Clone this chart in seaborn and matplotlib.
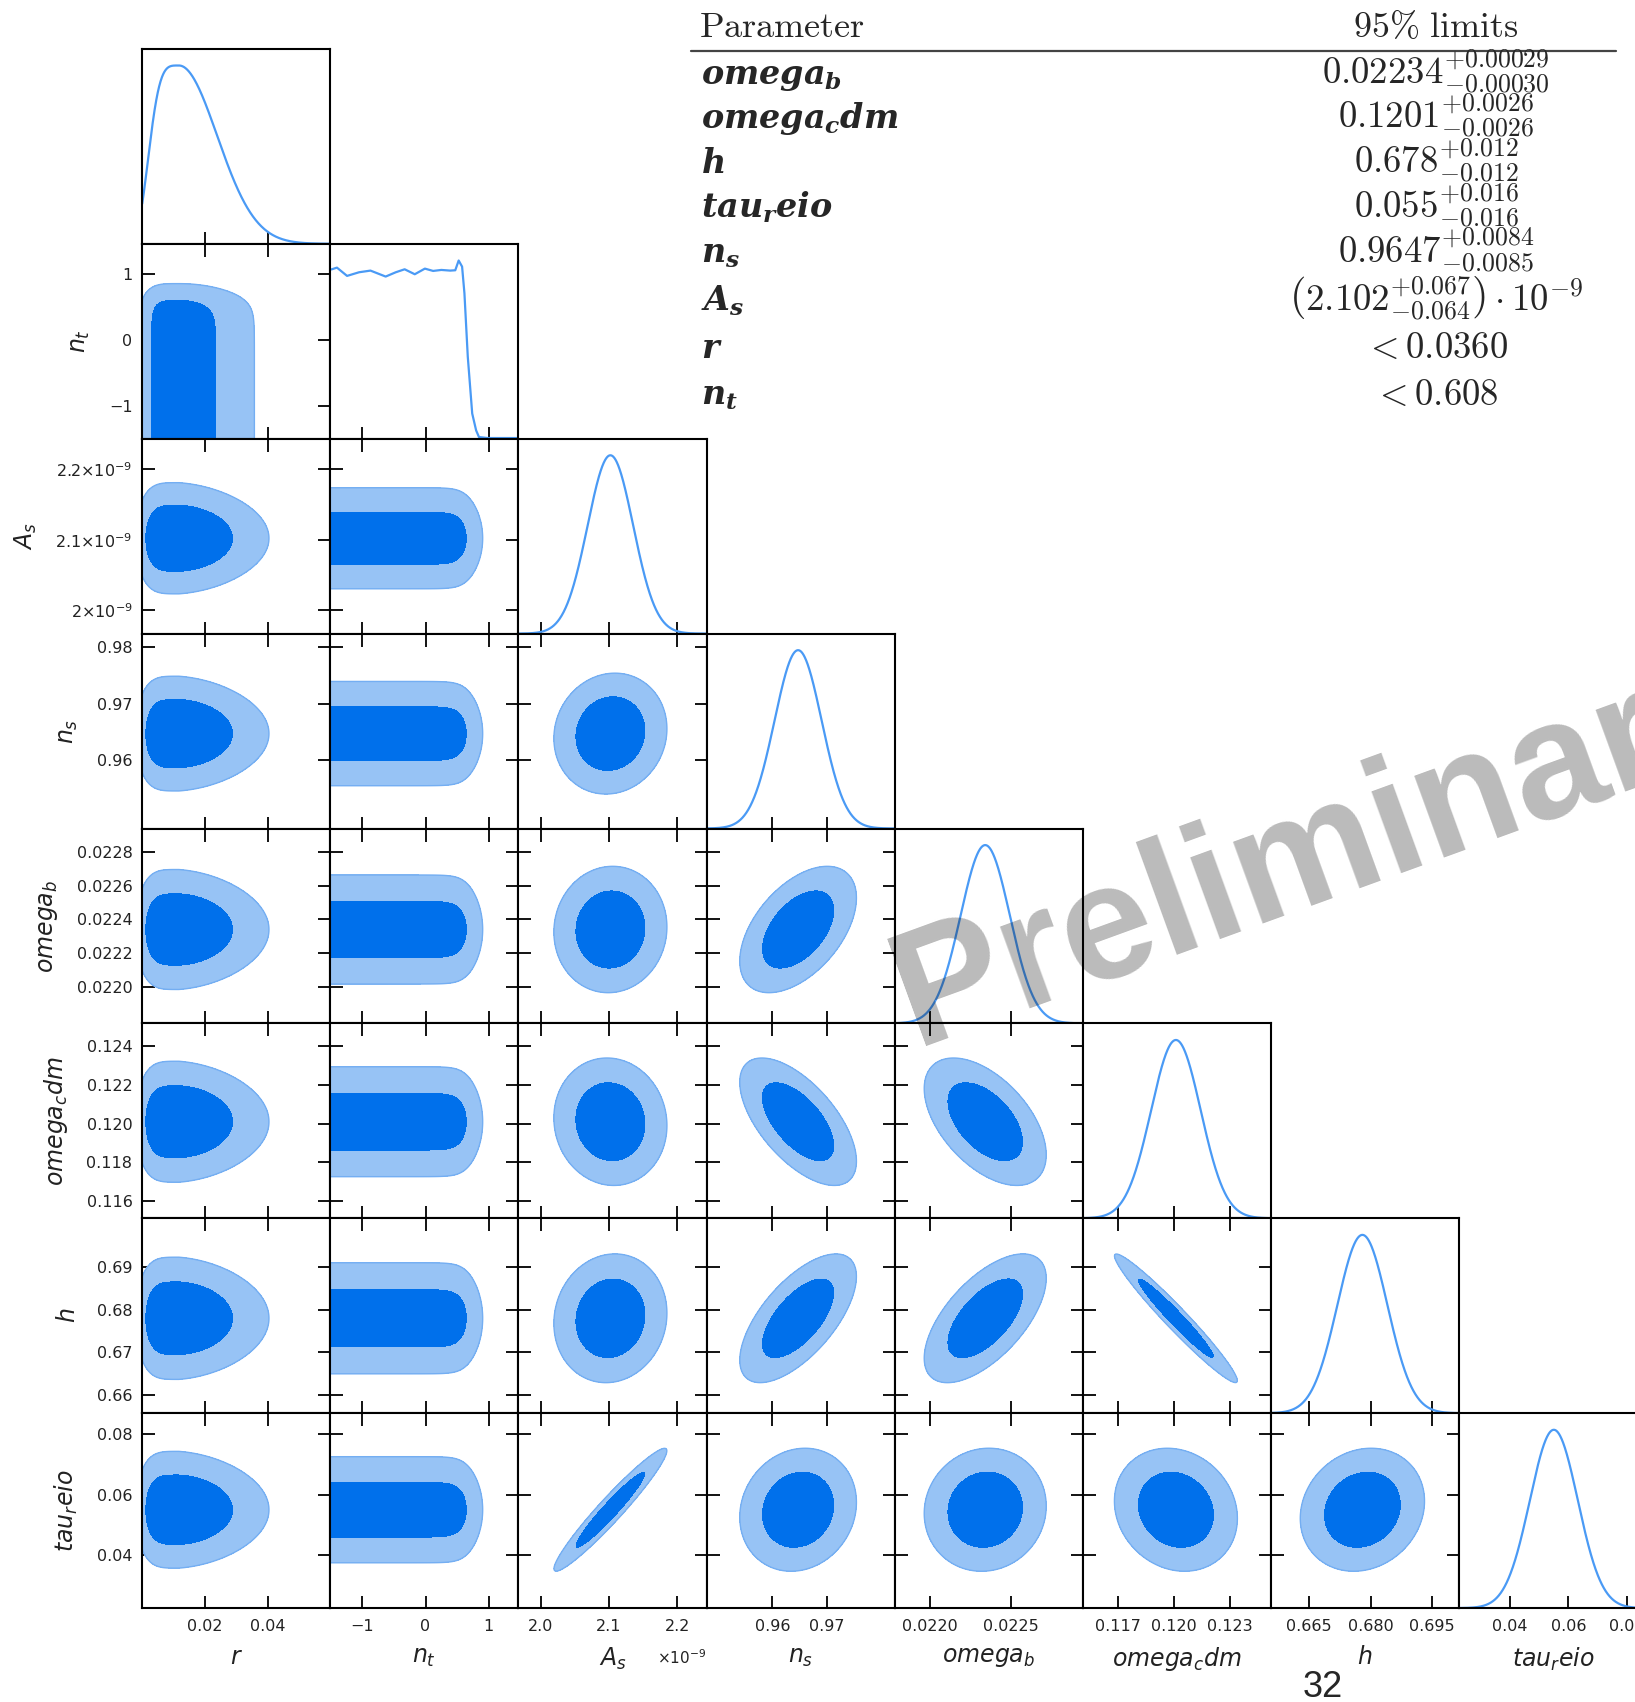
import numpy as np
import matplotlib
matplotlib.use("Agg")
import matplotlib.pyplot as plt
import seaborn as sns
from matplotlib.ticker import FixedLocator, FixedFormatter

# ---------------------------------------------------------------------------
# Parameters of the chain, in plotting order
# ---------------------------------------------------------------------------
param_names = ["r", "n_t", "A_s", "n_s", "omega_b", "omega_cdm", "h", "tau_reio"]
axis_labels = [r"$r$", r"$n_t$", r"$A_s$", r"$n_s$", r"$omega_b$",
               r"$omega_cdm$", r"$h$", r"$tau_reio$"]

# 95% limits as reported in the summary table
table_params = ["omega_b", "omega_cdm", "h", "tau_reio", "n_s", "A_s", "r", "n_t"]
table_names = [r"$omega_b$", r"$omega_cdm$", r"$h$", r"$tau_reio$",
               r"$n_s$", r"$A_s$", r"$r$", r"$n_t$"]
best_fit = ["0.02234", "0.1201", "0.678", "0.055", "0.9647", "2.102"]
limit_plus = ["0.00029", "0.0026", "0.012", "0.016", "0.0084", "0.067"]
limit_minus = ["0.00030", "0.0026", "0.012", "0.016", "0.0085", "0.064"]
upper_limits = ["0.0360", "0.608"]          # r, n_t (one-sided)
As_unit = 1e-9                              # A_s values are quoted in units of 1e-9

# Gaussian-like parameters: mean and sigma derived from the table
gauss_params = table_params[:6]
gauss_mean = {p: float(b) * (As_unit if p == "A_s" else 1.0)
              for p, b in zip(gauss_params, best_fit)}
gauss_sigma = {p: 0.5 * (float(a) + float(b)) / 1.96 * (As_unit if p == "A_s" else 1.0)
               for p, a, b in zip(gauss_params, limit_plus, limit_minus)}

# correlation coefficients between the Gaussian-like parameters
corr_first = ["A_s", "A_s", "A_s", "A_s", "A_s", "n_s", "n_s", "n_s", "n_s",
              "omega_b", "omega_b", "omega_b", "omega_cdm", "omega_cdm", "h"]
corr_second = ["tau_reio", "n_s", "omega_b", "omega_cdm", "h", "omega_b", "omega_cdm", "h",
               "tau_reio", "omega_cdm", "h", "tau_reio", "h", "tau_reio", "tau_reio"]
corr_value = [0.96, 0.08, 0.04, -0.06, 0.08, 0.50, -0.62, 0.65,
              0.12, -0.52, 0.62, 0.06, -0.97, -0.14, 0.14]

# tensor-to-scalar ratio: asymmetric marginal bounded at r = 0
r_peak = 0.0117
r_width_low, r_power_low = 0.0089, 4.0
r_width_high, r_power_high = 0.0122, 2.0
r_taper = 0.05      # narrowing of the partner parameter towards large r

# tensor tilt: flat posterior with a soft upper edge
nt_edge, nt_soft, nt_prior_min = 0.663, 0.11, -3.0
nt_curve_x = [-1.55, -1.48, -1.40, -1.24, -1.05, -0.87, -0.63, -0.47, -0.33, -0.17,
              -0.01, 0.12, 0.25, 0.39, 0.47, 0.524, 0.578, 0.615, 0.668, 0.738,
              0.80, 0.845, 0.98, 1.50]
nt_curve_y = [1.02, 1.024, 1.034, 0.984, 1.006, 1.016, 0.98, 1.006, 1.024, 0.994,
              1.028, 1.014, 1.02, 1.016, 1.018, 1.077, 1.04, 0.879, 0.495, 0.152,
              0.05, 0.01, 0.004, 0.004]

# plotting ranges
axis_lo = [0.0, -1.505, 1.967e-9, 0.9479, 0.021785, 0.11511, 0.6556, 0.0226]
axis_hi = [0.060, 1.468, 2.243e-9, 0.9824, 0.022937, 0.12518, 0.7016, 0.0868]

# ticks and tick labels
x_ticks = [[0.02, 0.04], [-1, 0, 1], [2.0e-9, 2.1e-9, 2.2e-9], [0.96, 0.97],
           [0.0220, 0.0225], [0.117, 0.120, 0.123], [0.665, 0.680, 0.695],
           [0.04, 0.06, 0.08]]
x_tick_labels = [["0.02", "0.04"], ["\u22121", "0", "1"], ["2.0", "2.1", "2.2"],
                 ["0.96", "0.97"], ["0.0220", "0.0225"], ["0.117", "0.120", "0.123"],
                 ["0.665", "0.680", "0.695"], ["0.04", "0.06", "0.08"]]
y_ticks = [[], [-1, 0, 1], [2.0e-9, 2.1e-9, 2.2e-9], [0.96, 0.97, 0.98],
           [0.0220, 0.0222, 0.0224, 0.0226, 0.0228],
           [0.116, 0.118, 0.120, 0.122, 0.124], [0.66, 0.67, 0.68, 0.69],
           [0.04, 0.06, 0.08]]
y_tick_labels = [[], ["\u22121", "0", "1"],
                 [r"$2{\times}10^{-9}$", r"$2.1{\times}10^{-9}$", r"$2.2{\times}10^{-9}$"],
                 ["0.96", "0.97", "0.98"],
                 ["0.0220", "0.0222", "0.0224", "0.0226", "0.0228"],
                 ["0.116", "0.118", "0.120", "0.122", "0.124"],
                 ["0.66", "0.67", "0.68", "0.69"], ["0.04", "0.06", "0.08"]]

# ---------------------------------------------------------------------------
# Style
# ---------------------------------------------------------------------------
sns.set_theme(style="white")
plt.rcParams["font.family"] = ["DejaVu Sans"]
plt.rcParams["mathtext.fontset"] = "dejavusans"
plt.rcParams["mathtext.it"] = "DejaVu Serif:italic:bold"
plt.rcParams["mathtext.rm"] = "DejaVu Serif:bold"
plt.rcParams["mathtext.bf"] = "DejaVu Serif:bold"

dark_blue = "#0070eb"
light_blue = "#97c3f5"
edge_blue = "#74aef2"
line_blue = "#4a9af5"

W, H, DPI = 1635, 1702, 100
fig = plt.figure(figsize=(W / DPI, H / DPI), dpi=DPI)

grid_left, grid_top = 142.2, 48.9
cell_w, cell_h = 188.1, 194.9


def cell_rect(i, j):
    x0 = grid_left + j * cell_w
    y0 = grid_top + i * cell_h
    return [x0 / W, 1 - (y0 + cell_h) / H, cell_w / W, cell_h / H]


def density_1d(name, x):
    if name == "r":
        d = x - r_peak
        low = np.exp(-0.5 * np.abs(d / r_width_low) ** r_power_low)
        high = np.exp(-0.5 * np.abs(d / r_width_high) ** r_power_high)
        return np.where(x >= 0, np.where(d < 0, low, high), 0.0)
    if name == "n_t":
        upper = 1.0 / (1.0 + np.exp((x - nt_edge) / nt_soft))
        lower = 1.0 / (1.0 + np.exp((nt_prior_min - x) / nt_soft))
        return upper * lower
    m, s = gauss_mean[name], gauss_sigma[name]
    return np.exp(-0.5 * ((x - m) / s) ** 2)


def support(name, n=300):
    if name == "r":
        return np.linspace(0.0, 0.1, n)
    if name == "n_t":
        return np.linspace(nt_prior_min - 0.6, 2.2, n)
    m, s = gauss_mean[name], gauss_sigma[name]
    return np.linspace(m - 6 * s, m + 6 * s, n)


def correlation(a, b):
    for p, q, v in zip(corr_first, corr_second, corr_value):
        if (p, q) == (a, b) or (p, q) == (b, a):
            return v
    return 0.0


def density_2d(nx, ny, X, Y):
    if nx in gauss_mean and ny in gauss_mean:
        u = (X - gauss_mean[nx]) / gauss_sigma[nx]
        v = (Y - gauss_mean[ny]) / gauss_sigma[ny]
        rho = correlation(nx, ny)
        return np.exp(-(u * u - 2 * rho * u * v + v * v) / (2 * (1 - rho * rho)))
    if nx == "r" and ny in gauss_mean:
        shrink = 1 - r_taper * np.clip((X - r_peak) / r_width_high, 0, None)
        m, s = gauss_mean[ny], gauss_sigma[ny]
        return density_1d("r", X) * np.exp(-0.5 * ((Y - m) / (s * shrink)) ** 2)
    return density_1d(nx, X) * density_1d(ny, Y)


def hpd_levels(dens, fractions):
    flat = np.sort(dens.ravel())[::-1]
    cum = np.cumsum(flat)
    cum /= cum[-1]
    return [flat[np.searchsorted(cum, f)] for f in fractions]


n = len(param_names)
for i in range(n):
    for j in range(i + 1):
        ax = fig.add_axes(cell_rect(i, j))
        px, py = param_names[j], param_names[i]
        if i == j:
            if px == "n_t":
                xs, ys = np.array(nt_curve_x), np.array(nt_curve_y)
                top = 1.178
            else:
                xs = np.linspace(axis_lo[j], axis_hi[j] + 0.05 * (axis_hi[j] - axis_lo[j]), 700)
                ys = density_1d(px, xs)
                ys = ys / ys.max()
                top = 1.093
            sns.lineplot(x=xs, y=ys, ax=ax, color=line_blue, linewidth=1.6, sort=False)
            ax.set_ylim(0, top)
            ax.set_yticks([])
            ax.tick_params(axis="x", direction="in", bottom=True, top=False,
                           length=9, width=1.3, color="black")
        else:
            X, Y = np.meshgrid(support(px), support(py))
            D = density_2d(px, py, X, Y)
            l95, l68 = hpd_levels(D, [0.954, 0.683])
            ax.contourf(X, Y, D, levels=[l95, l68, D.max() * 1.01],
                        colors=[light_blue, dark_blue])
            ax.contour(X, Y, D, levels=[l95], colors=[edge_blue], linewidths=1.0)
            ax.set_ylim(axis_lo[i], axis_hi[i])
            ax.yaxis.set_major_locator(FixedLocator(y_ticks[i]))
            ax.yaxis.set_major_formatter(FixedFormatter(y_tick_labels[i]))
            ax.tick_params(axis="both", direction="in", bottom=True, top=True,
                           left=True, right=True, length=9, width=1.3, color="black")
        ax.set_xlim(axis_lo[j], axis_hi[j])
        ax.xaxis.set_major_locator(FixedLocator(x_ticks[j]))
        ax.xaxis.set_major_formatter(FixedFormatter(x_tick_labels[j]))
        ax.set_xlabel("")
        ax.set_ylabel("")
        for s in ax.spines.values():
            s.set_color("black")
            s.set_linewidth(1.5)
        ax.tick_params(labelsize=11.5, labelcolor="#222222")
        ax.tick_params(axis="x", pad=8, labelbottom=(i == n - 1))
        ax.tick_params(axis="y", pad=7, labelleft=(j == 0 and i > 0))
        if i == n - 1:
            ax.set_xlabel(axis_labels[j], fontsize=17, labelpad=8, color="#222222")
            if px == "A_s":
                ax.text(1.0, -0.255, r"$\times10^{-9}$", transform=ax.transAxes,
                        ha="right", va="center", fontsize=11, color="#222222")
        if j == 0 and i > 0:
            ax.set_ylabel(axis_labels[i], fontsize=17, labelpad=12, color="#222222")


def fx(x):
    return x / W


def fy(y):
    return 1 - y / H


# summary table of 95% limits
fig.text(fx(699), fy(37), r"$\mathrm{Parameter}$", fontsize=26,
         math_fontfamily="cm", ha="left", va="baseline")
fig.text(fx(1436), fy(37), r"$\mathrm{95\%\ limits}$", fontsize=26,
         math_fontfamily="cm", ha="center", va="baseline")
fig.add_artist(plt.Line2D([fx(691), fx(1616)], [fy(50.5), fy(50.5)],
                          color="#444444", linewidth=1.6))
row_baselines = [84, 128, 173, 218, 263, 311, 358, 405]
limit_texts = []
for p, b, a, m in zip(gauss_params, best_fit, limit_plus, limit_minus):
    if p == "A_s":
        limit_texts.append(r"$\left(%s^{+%s}_{-%s}\right)\cdot10^{-9}$" % (b, a, m))
    else:
        limit_texts.append(r"$%s^{+%s}_{-%s}$" % (b, a, m))
limit_texts += [r"$<%s$" % u for u in upper_limits]
for name, val, yb in zip(table_names, limit_texts, row_baselines):
    fig.text(fx(701), fy(yb), name, fontsize=24, math_fontfamily="custom",
             ha="left", va="baseline")
    fig.text(fx(1436), fy(yb), val, fontsize=26.5, math_fontfamily="cm",
             ha="center", va="baseline")

# watermark and page number
fig.text(fx(915), fy(1046), "Preliminary", fontsize=119, family="Liberation Sans",
         fontweight="bold", rotation=20, rotation_mode="anchor", ha="left",
         va="baseline", color="black", alpha=0.27, zorder=20)
fig.text(fx(1323), fy(1697), "32", fontsize=26, family="Liberation Sans",
         ha="center", va="baseline")

fig.savefig("out.png", dpi=DPI)
